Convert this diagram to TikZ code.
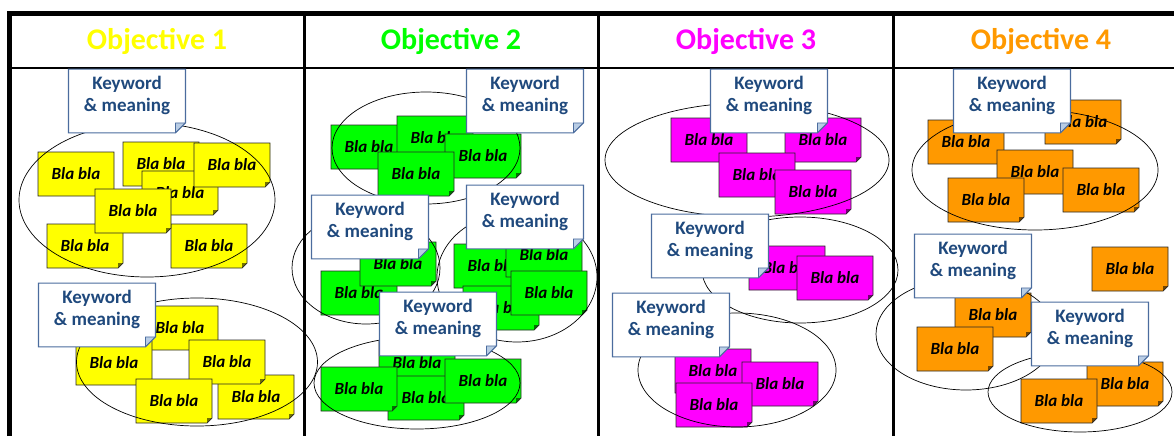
\documentclass[tikz,border=0pt]{standalone}
\usepackage{fontspec}
\setmainfont{Carlito}
\usetikzlibrary{shapes.misc,shapes.geometric}

\definecolor{obja}{RGB}{255,255,0}
\definecolor{objb}{RGB}{0,255,0}
\definecolor{objc}{RGB}{255,0,255}
\definecolor{objd}{RGB}{255,153,0}
\definecolor{kwline}{RGB}{75,108,158}
\definecolor{kwtext}{RGB}{31,73,125}
\definecolor{kwfold}{RGB}{185,205,229}

\begin{document}
\begin{tikzpicture}[x=1pt,y=-1pt,
    head/.style={font=\bfseries\fontsize{30}{36}\selectfont, anchor=base},
    note/.style={chamfered rectangle, chamfered rectangle corners=south east,
      chamfered rectangle xsep=2.5pt, chamfered rectangle ysep=2.5pt,
      draw=black!85, line width=0.7pt, fill=#1, inner sep=0pt,
      minimum width=76pt, minimum height=44pt,
      font=\bfseries\itshape\fontsize{17}{20}\selectfont,
      path picture={\fill[#1!45!black] ([xshift=-5pt]path picture bounding box.south east)
        -- ([yshift=5pt]path picture bounding box.south east)
        -- ([xshift=-5pt,yshift=5pt]path picture bounding box.south east) -- cycle;}},
    keybox/.style={chamfered rectangle, chamfered rectangle corners=south east,
      chamfered rectangle xsep=5pt, chamfered rectangle ysep=5pt,
      draw=kwline, line width=1.1pt, fill=white, inner sep=2pt,
      minimum width=117pt, minimum height=58pt, align=center, text=kwtext,
      text depth=14pt, font=\bfseries\fontsize{19}{22.5}\selectfont,
      path picture={\filldraw[fill=kwfold, draw=kwline, line width=0.8pt]
        ([xshift=-10pt]path picture bounding box.south east)
        -- ([yshift=10pt]path picture bounding box.south east)
        -- ([xshift=-10pt,yshift=10pt]path picture bounding box.south east) -- cycle;}},
    ring/.style={ellipse, draw, line width=0.7pt, inner sep=0pt}]

\useasboundingbox (0,0) rectangle (1174,436);

% frame of the table
\draw [line width=5pt] (9.8,436) -- (9.8,13.5) -- (1174,13.5);
\draw [line width=2pt] (9.8,68.3) -- (1174,68.3);
\draw [line width=3pt] (304,13.5) -- (304,436) (598,13.5) -- (598,436) (893,13.5) -- (893,436);

% headers
\node (h1) at (157,49.5) [head, text=obja] {Objective 1};
\node (h2) at (451,49.5) [head, text=objb] {Objective 2};
\node (h3) at (746,49.5) [head, text=objc] {Objective 3};
\node (h4) at (1041,49.5) [head, text=objd] {Objective 4};

% objective 1
\node (y1) at (76,174) [note=obja] {Bla bla};
\node (y2) at (161,164) [note=obja] {Bla bla};
\node (y3) at (180,193) [note=obja] {Bla bla};
\node (y4) at (85,246) [note=obja] {Bla bla};
\node (y5) at (209,246) [note=obja] {Bla bla};
\node (y6) at (133,211) [note=obja] {Bla bla};
\node (y7) at (232,165) [note=obja] {Bla bla};
\node (y8) at (180,328) [note=obja] {Bla bla};
\node (y9) at (114,363) [note=obja] {Bla bla};
\node (y10) at (256,397) [note=obja] {Bla bla};
\node (y11) at (227,362) [note=obja] {Bla bla};
\node (y12) at (174,401) [note=obja] {Bla bla};

% objective 2
\node (g1) at (369,147) [note=objb] {Bla bla};
\node (g2) at (435,138) [note=objb] {Bla bla};
\node (g3) at (483,156) [note=objb] {Bla bla};
\node (g4) at (416,174) [note=objb] {Bla bla};
\node (g5) at (359,293) [note=objb] {Bla bla};
\node (g6) at (398,264) [note=objb] {Bla bla};
\node (g7) at (492,266) [note=objb] {Bla bla};
\node (g8) at (501,308) [note=objb] {Bla bla};
\node (g9) at (544,255) [note=objb] {Bla bla};
\node (g10) at (549,293) [note=objb] {Bla bla};
\node (g11) at (417,363) [note=objb] {Bla bla};
\node (g12) at (426,398) [note=objb] {Bla bla};
\node (g13) at (359,389) [note=objb] {Bla bla};
\node (g14) at (483,381) [note=objb] {Bla bla};

% objective 3
\node (m1) at (709,140) [note=objc] {Bla bla};
\node (m2) at (823,140) [note=objc] {Bla bla};
\node (m3) at (757,175) [note=objc] {Bla bla};
\node (m4) at (813,192) [note=objc] {Bla bla};
\node (m5) at (787,268) [note=objc] {Bla bla};
\node (m6) at (835,278) [note=objc] {Bla bla};
\node (m7) at (713,371) [note=objc] {Bla bla};
\node (m8) at (780,384) [note=objc] {Bla bla};
\node (m9) at (714,405) [note=objc] {Bla bla};

% objective 4
\node (o1) at (966,142) [note=objd] {Bla bla};
\node (o2) at (1083,122) [note=objd] {Bla bla};
\node (o3) at (1035,172) [note=objd] {Bla bla};
\node (o4) at (986,200) [note=objd] {Bla bla};
\node (o5) at (1101,190) [note=objd] {Bla bla};
\node (o6) at (1130,269) [note=objd] {Bla bla};
\node (o7) at (993,315) [note=objd] {Bla bla};
\node (o8) at (955,349) [note=objd] {Bla bla};
\node (o9) at (1125,384) [note=objd] {Bla bla};
\node (o10) at (1059,401) [note=objd] {Bla bla};

% groups
\node (e1) at (147,200) [ring, minimum width=256pt, minimum height=154pt] {};
\node (e2) at (197,362) [ring, minimum width=241pt, minimum height=128pt] {};
\node (e3) at (426,148) [ring, minimum width=188pt, minimum height=112pt] {};
\node (e4) at (366,268) [ring, minimum width=148pt, minimum height=112pt] {};
\node (e5) at (517,277) [ring, minimum width=160pt, minimum height=130pt] {};
\node (e6) at (417,383) [ring, minimum width=206pt, minimum height=92pt] {};
\node (e7) at (747,160) [ring, minimum width=284pt, minimum height=114pt] {};
\node (e8) at (800,270) [ring, minimum width=196pt, minimum height=106pt] {};
\node (e9) at (737,370) [ring, minimum width=198pt, minimum height=114pt] {};
\node (e10) at (1035,170) [ring, minimum width=246pt, minimum height=120pt] {};
\node (e11) at (966,334) [ring, minimum width=180pt, minimum height=112pt] {};
\node (e12) at (1080,392) [ring, minimum width=184pt, minimum height=80pt] {};

% keywords
\node (k1) at (127,101) [keybox] {Keyword\\\& meaning};
\node (k2) at (97,315) [keybox] {Keyword\\\& meaning};
\node (k3) at (525,101) [keybox] {Keyword\\\& meaning};
\node (k4) at (370,227) [keybox] {Keyword\\\& meaning};
\node (k5) at (525,217) [keybox] {Keyword\\\& meaning};
\node (k6) at (438,324) [keybox] {Keyword\\\& meaning};
\node (k7) at (769,101) [keybox] {Keyword\\\& meaning};
\node (k8) at (710,246) [keybox] {Keyword\\\& meaning};
\node (k9) at (671,325) [keybox] {Keyword\\\& meaning};
\node (k10) at (1012,101) [keybox] {Keyword\\\& meaning};
\node (k11) at (973,266) [keybox] {Keyword\\\& meaning};
\node (k12) at (1090,334) [keybox] {Keyword\\\& meaning};

\end{tikzpicture}
\end{document}
